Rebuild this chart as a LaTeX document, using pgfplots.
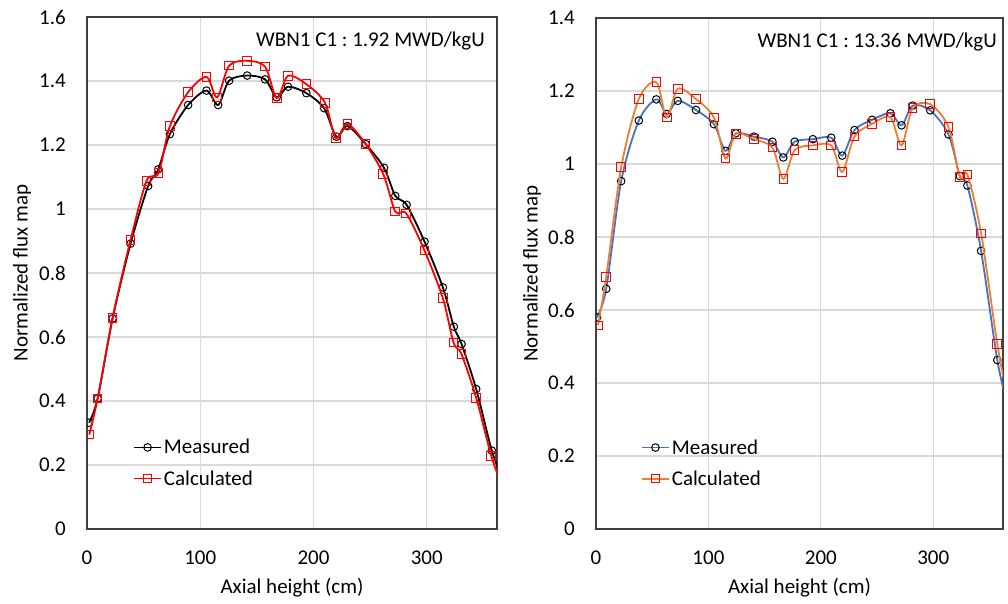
\documentclass[border=0pt]{standalone}
\usepackage{fontspec}
\setmainfont{Carlito}
\usepackage{pgfplots}
\pgfplotsset{compat=1.18}
\definecolor{gridc}{HTML}{D9D9D9}
\definecolor{frame}{HTML}{404040}
\definecolor{mblue}{HTML}{4472C4}
\definecolor{corange}{HTML}{ED7D31}
\definecolor{mred}{HTML}{FF0000}
\pgfplotsset{
  common/.style={
    scale only axis, anchor=south west,
    xmin=0, xmax=362, xtick={0,100,200,300},
    ymin=0,
    grid=major, major grid style={gridc, line width=1.2pt},
    axis line style={frame, line width=1.3pt},
    major tick length=0pt,
    tick label style={font=\fontsize{21}{25}\selectfont},
    /pgf/number format/assume math mode=true,
    label style={font=\fontsize{21}{25}\selectfont},
    yticklabel style={inner sep=0pt, xshift=-21pt},
    xticklabel style={inner sep=0pt, yshift=-22pt},
    xlabel={Axial height (cm)},
    ylabel={Normalized flux map},
    clip marker paths=true,
    legend cell align=left,
    legend style={draw=none, fill=none, font=\fontsize{21}{25}\selectfont, row sep=11pt, inner sep=0pt, anchor=west},
    legend image code/.code={\draw[mark repeat=2,mark phase=2] plot coordinates {(0pt,0pt) (13.5pt,0pt) (27pt,0pt)};},
  },
  meas/.style={line width=1.8pt, smooth, tension=0.5, mark=o, mark size=3.8pt, mark options={draw=black, line width=1pt, fill=none, solid}},
  calc/.style={line width=1.8pt, smooth, tension=0.5, mark=square, mark size=4.3pt, mark options={draw=mred, line width=1pt, fill=none, solid}},
}
\begin{document}
\begin{tikzpicture}
\useasboundingbox (0,0) rectangle (1008pt,603pt);
\begin{axis}[common,
  at={(87pt,74pt)}, width=410pt, height=512pt,
  ymax=1.6, ytick={0,0.2,...,1.6},
  xlabel style={at={(axis description cs:0.5,-0.1152)}, anchor=center},
  ylabel style={at={(axis description cs:-0.1585,0.5)}, anchor=center},
  legend style={at={(axis cs:40.6,0.129*1.6)}},
]
\addplot[meas, black] coordinates {
(1.8,0.332)(9.4,0.408)(22.6,0.658)(38.5,0.892)(54,1.072)(62.9,1.124)(73.2,1.234)(89.3,1.325)(105.5,1.370)(115.8,1.325)(125.5,1.401)(141.4,1.417)(157.2,1.405)(167.5,1.349)(177.5,1.382)(193.7,1.362)(209.3,1.315)(220.2,1.226)(229.9,1.259)(246,1.203)(262.2,1.129)(272.2,1.041)(282.2,1.013)(298,0.898)(314.2,0.755)(323.9,0.632)(330.7,0.578)(343.6,0.4375)(357.4,0.245)(366,0.165)
};
\addlegendentry{Measured}
\addplot[calc, mred] coordinates {
(2,0.295)(9.4,0.408)(22.6,0.660)(38.5,0.904)(52.6,1.088)(63.2,1.113)(73.2,1.259)(89.3,1.365)(105.5,1.413)(114.9,1.349)(125.5,1.448)(141.4,1.463)(157.2,1.445)(167.5,1.346)(177.5,1.416)(193.7,1.390)(210.1,1.332)(219.6,1.221)(229.9,1.266)(246,1.203)(261.6,1.109)(272.2,0.992)(281.9,0.986)(298,0.870)(314.2,0.721)(323.6,0.583)(330.7,0.546)(343.6,0.410)(356.9,0.229)(366,0.14)
};
\addlegendentry{Calculated}
\node[anchor=north east, inner sep=0pt, font=\fontsize{21}{25}\selectfont] at ([xshift=-12pt,yshift=-15pt]rel axis cs:1,1) {\frenchspacing WBN1 C1 : 1.92 MWD/kgU};
\end{axis}
\begin{axis}[common,
  at={(596pt,74pt)}, width=407pt, height=511pt,
  ymax=1.4, ytick={0,0.2,...,1.4},
  xlabel style={at={(axis description cs:0.5,-0.1155)}, anchor=center},
  ylabel style={at={(axis description cs:-0.157,0.5)}, anchor=center},
  legend style={at={(axis cs:39.9,0.129*1.4)}},
]
\addplot[meas, mblue] coordinates {
(0.9,0.580)(9.1,0.658)(22.4,0.953)(38.1,1.119)(53.7,1.177)(62.9,1.137)(72.7,1.173)(88.9,1.148)(104.9,1.109)(115.2,1.036)(124.4,1.084)(140.6,1.075)(156.9,1.061)(166.6,1.018)(176.7,1.061)(192.9,1.068)(209.2,1.072)(219,1.023)(229.9,1.093)(245.6,1.121)(261.8,1.139)(271.8,1.106)(281.6,1.160)(297.3,1.147)(313.5,1.081)(323.6,0.967)(330.3,0.941)(342.5,0.762)(356.9,0.463)(366,0.34)
};
\addlegendentry{Measured}
\addplot[calc, corange] coordinates {
(1.8,0.558)(9.1,0.691)(22.4,0.991)(38.1,1.178)(53.7,1.224)(62.9,1.127)(72.7,1.206)(88.9,1.178)(104.9,1.127)(115.2,1.015)(124.4,1.083)(140.6,1.068)(156.9,1.045)(166.6,0.959)(176.7,1.038)(192.9,1.051)(209.2,1.051)(219,0.978)(229.9,1.075)(245.6,1.110)(261.8,1.128)(271.8,1.051)(281.6,1.153)(297.3,1.164)(313.5,1.101)(323.6,0.964)(330.3,0.971)(342.5,0.810)(356.9,0.507)(366,0.36)
};
\addlegendentry{Calculated}
\node[anchor=north east, inner sep=0pt, font=\fontsize{21}{25}\selectfont] at ([xshift=-6pt,yshift=-15pt]rel axis cs:1,1) {\frenchspacing WBN1 C1 : 13.36 MWD/kgU};
\end{axis}
\end{tikzpicture}
\end{document}
